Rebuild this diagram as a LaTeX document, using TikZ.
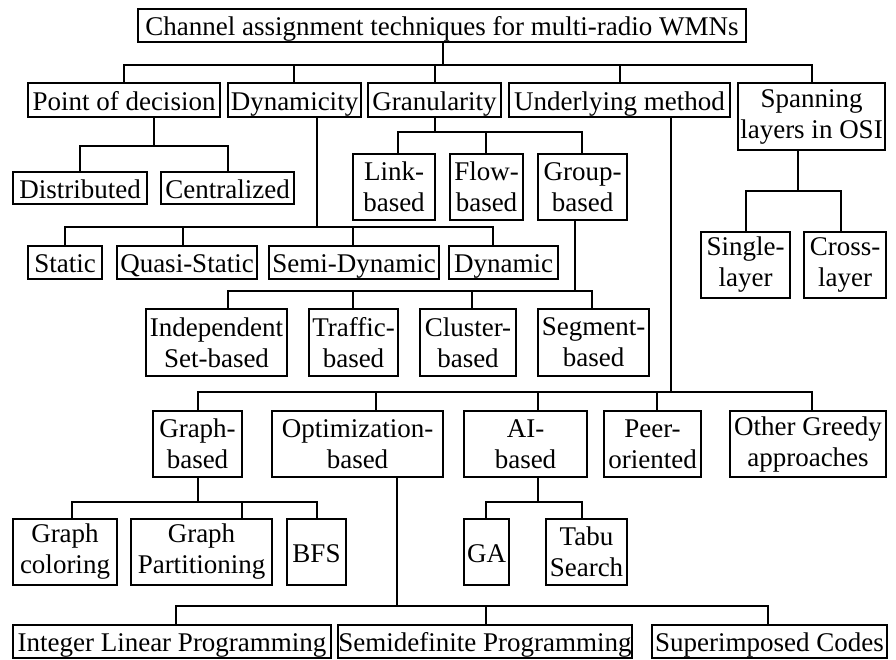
\documentclass[tikz,border=0pt]{standalone}
\usepackage{fontspec}
\setmainfont{Liberation Serif}
\tikzset{
  box/.style={draw, line width=1.4pt, inner sep=0pt, outer sep=0pt, align=center,
    font={\fontsize{27}{31}\selectfont}},
  oneline/.style={text height=26pt, text depth=6pt},
  link/.style={line width=1.4pt, line join=miter}
}
% box with corners (x1,y1) and (x2,y2)
\newcommand\bx[7][]{%
  \node[box, #1, minimum width={(#5-#3)*1pt}, minimum height={(#6-#4)*1pt}]
    (#2) at ({(#3+#5)/2},{(#4+#6)/2}) {#7};}
% parent, exit x, bus y, list of dropx/child
\newcommand\branch[4]{%
  \coordinate (exit-#1) at (#2,#3);
  \draw[link] (#1.south -| exit-#1) -- (exit-#1);
  \foreach \dx/\ch in {#4}{%
    \coordinate (drop-\ch) at (\dx,#3);
    \draw[link] (exit-#1) -- (drop-\ch) -- (drop-\ch |- \ch.north);
  }}
\begin{document}
\begin{tikzpicture}[x=1pt,y=-1pt]
\useasboundingbox (0,0) rectangle (896,659);
\bx[oneline]{root}{138}{9}{746}{42}{Channel assignment techniques for multi-radio WMNs}
\bx[oneline]{pod}{28}{83}{220}{117}{Point of decision}
\bx[oneline]{dyn}{228}{83}{361}{117}{Dynamicity}
\bx[oneline]{gran}{368}{83}{501}{117}{Granularity}
\bx[oneline]{um}{509}{83}{730}{117}{Underlying method}
\bx{span}{738}{83}{885}{150}{Spanning\\layers in OSI}
\bx[oneline]{dist}{13}{172}{147}{204}{Distributed}
\bx[oneline]{cent}{161}{172}{294}{204}{Centralized}
\bx[oneline]{stat}{28}{246}{102}{279}{Static}
\bx[oneline]{quasi}{117}{246}{257}{279}{Quasi-Static}
\bx[oneline]{semi}{269}{246}{439}{279}{Semi-Dynamic}
\bx[oneline]{dynm}{449}{246}{558}{279}{Dynamic}
\bx{link}{353}{154}{435}{220}{Link-\\based}
\bx{flow}{450}{154}{523}{220}{Flow-\\based}
\bx{group}{538}{154}{627}{220}{Group-\\based}
\bx{indep}{146}{309}{287}{376}{Independent\\Set-based}
\bx{traf}{309}{309}{398}{376}{Traffic-\\based}
\bx{clus}{420}{309}{516}{376}{Cluster-\\based}
\bx{seg}{538}{309}{649}{376}{Segment-\\based}
\bx{graph}{153}{411}{242}{477}{Graph-\\based}
\bx{opt}{272}{411}{443}{477}{Optimization-\\based}
\bx{ai}{464}{411}{587}{477}{AI-\\based}
\bx{peer}{604}{411}{701}{477}{Peer-\\oriented}
\bx{other}{730}{411}{886}{477}{Other Greedy\\approaches}
\bx{gcol}{13}{519}{117}{585}{Graph\\coloring}
\bx{gpart}{131}{519}{272}{585}{Graph\\Partitioning}
\bx[oneline]{bfs}{287}{519}{346}{585}{BFS}
\bx[oneline]{ga}{464}{519}{509}{585}{GA}
\bx{tabu}{546}{519}{627}{585}{Tabu\\Search}
\bx[oneline]{ilp}{13}{625}{331}{658}{Integer Linear Programming}
\bx[oneline]{sdp}{338}{625}{632}{658}{Semidefinite Programming}
\bx[oneline]{sic}{652}{625}{887}{658}{Superimposed Codes}
\bx{single}{701}{232}{790}{298}{Single-\\layer}
\bx{cross}{804}{232}{886}{298}{Cross-\\layer}

\branch{root}{443}{65}{124/pod,294/dyn,435/gran,620/um,812/span}
\branch{pod}{154}{146}{80/dist,228/cent}
\branch{dyn}{317}{227}{65/stat,183/quasi,353/semi,493/dynm}
\branch{gran}{435}{132}{398/link,486/flow,582/group}
\branch{group}{575}{291}{228/indep,353/traf,472/clus,592/seg}
\branch{um}{671}{392}{198/graph,376/opt,538/ai,657/peer,812/other}
\branch{graph}{198}{502}{72/gcol,242/gpart,317/bfs}
\branch{ai}{538}{502}{486/ga,582/tabu}
\branch{opt}{397}{606}{176/ilp,486/sdp,768/sic}
\branch{span}{798}{191}{746/single,841/cross}
\end{tikzpicture}
\end{document}
